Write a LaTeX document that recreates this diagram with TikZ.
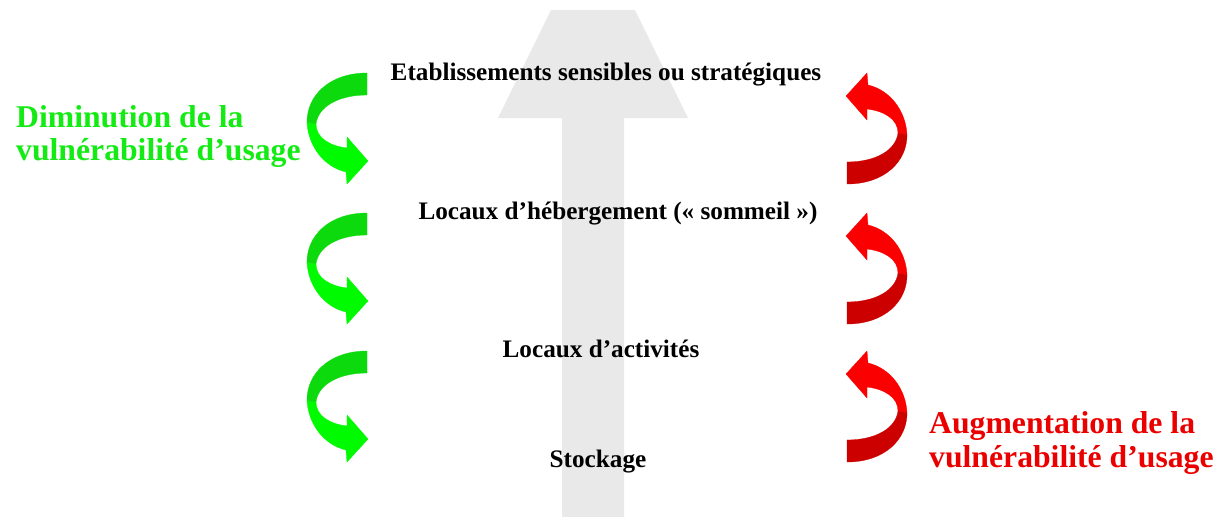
\documentclass[tikz,border=0pt]{standalone}
\usepackage{fontspec}
\setmainfont{Liberation Serif}
\definecolor{arrowgray}{RGB}{233,233,234}
\definecolor{gdark}{RGB}{12,218,12}
\definecolor{glight}{RGB}{0,250,0}
\definecolor{rdark}{RGB}{205,0,0}
\definecolor{rlight}{RGB}{250,0,0}
\definecolor{gtext}{RGB}{20,235,20}
\definecolor{rtext}{RGB}{235,0,0}
\newcommand\mycurve[2]{%
  \filldraw[fill=#2,draw=#2,line width=0.3pt] (307,122) .. controls (308,146) and (324,167) .. (346,172) -- (347,184) -- (368,161) -- (347,137) -- (347,148) .. controls (330,146) and (316,138) .. (316,124) -- cycle;
  \filldraw[fill=#1,draw=#1,line width=0.3pt] (367,73) .. controls (330,73) and (307,95) .. (307,122) -- (316,124) .. controls (318,107) and (338,95) .. (367,95) -- cycle;
}
\tikzset{
  level/.style={font=\fontsize{25.2}{30}\selectfont\bfseries, text=black, inner sep=0pt, anchor=base},
  bigtxt/.style={font=\fontsize{31.7}{36}\selectfont\bfseries, inner sep=0pt, anchor=base west},
}
\begin{document}
\begin{tikzpicture}[x=1pt,y=-1pt]
\useasboundingbox (0,0) rectangle (1219,517);
% big grey arrow
\fill[arrowgray] (562,517) -- (562,118) -- (498,118) -- (551,10) -- (635,10) -- (688,118) -- (624,118) -- (624,517) -- cycle;
% curved arrows
\foreach \dy in {0,140,278}{
  \begin{scope}[shift={(0,\dy)}]
    \mycurve{gdark}{glight}
  \end{scope}
  \begin{scope}[shift={(540,\dy)}]
    \begin{scope}[rotate around={180:(337,128.5)}]
      \mycurve{rdark}{rlight}
    \end{scope}
  \end{scope}
}
% levels
\node[level] (etab) at (606,80) {Etablissements sensibles ou stratégiques};
\node[level] (heb) at (618,219) {Locaux d’hébergement (« sommeil »)};
\node[level] (act) at (601,357) {Locaux d’activités};
\node[level] (stock) at (598,467) {Stockage};
% side labels
\node[bigtxt, text=gtext] (dim1) at (16,127) {Diminution de la};
\node[bigtxt, text=gtext] (dim2) at (16,160) {vulnérabilité d’usage};
\node[bigtxt, text=rtext] (aug1) at (929,433) {Augmentation de la};
\node[bigtxt, text=rtext] (aug2) at (929,467) {vulnérabilité d’usage};
\end{tikzpicture}
\end{document}
